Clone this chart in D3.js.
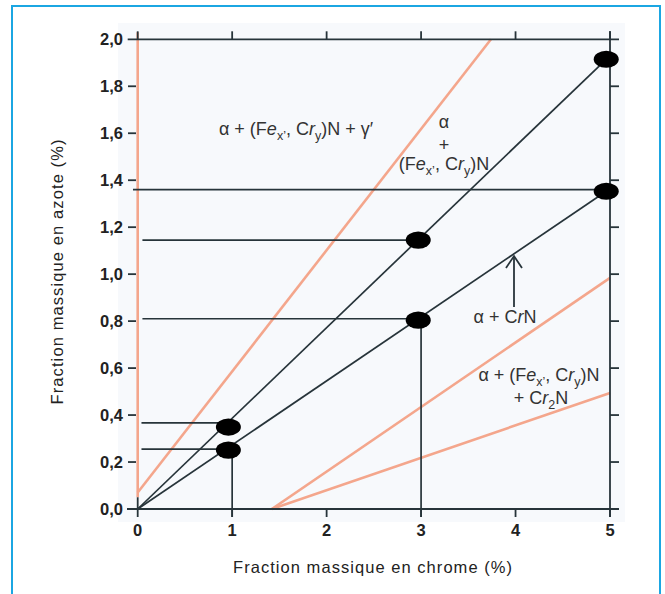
<!DOCTYPE html>
<html><head><meta charset="utf-8">
<script src="https://cdn.jsdelivr.net/npm/d3@7"></script>
<style>
html,body{margin:0;padding:0;background:#fff;}
svg{display:block;font-family:"Liberation Sans",Arial,sans-serif;}
</style></head>
<body>
<script>
// ---- data ----
const xTicks = [0, 1, 2, 3, 4, 5];
const yTicks = [0, 0.2, 0.4, 0.6, 0.8, 1.0, 1.2, 1.4, 1.6, 1.8, 2.0];
const yTickLabels = ["0,0","0,2","0,4","0,6","0,8","1,0","1,2","1,4","1,6","1,8","2,0"];
// phase boundaries (orange): start/end points
const boundaryX0 = [0, 0, 1.42, 1.42];
const boundaryY0 = [0.05, 0.07, 0, 0];
const boundaryX1 = [0, 3.74, 5, 5];
const boundaryY1 = [2.03, 2.0, 0.984, 0.494];
// composition lines (black) from origin
const compX1 = [4.96, 4.96];
const compY1 = [1.915, 1.353];
// measured points
const pointX = [0.96, 0.96, 2.97, 2.97, 4.96, 4.96];
const pointY = [0.349, 0.251, 1.145, 0.804, 1.915, 1.353];
// horizontal guides
const guideY = [0.367, 0.255, 1.145, 0.81, 1.36];
const guideX0 = [0.04, 0.04, 0.05, 0.05, -0.05];
const guideX1 = [0.96, 0.96, 2.97, 2.97, 5];
// vertical guides
const vGuideX = [1, 3];
const vGuideY = [0.251, 0.804];

const W = 665, H = 594;
const svg = d3.select("body").append("svg").attr("width", W).attr("height", H);

// frame
svg.append("path").attr("d", `M12,${H} L12,6 L660,6 L660,${H}`)
  .attr("fill","none").attr("stroke","#1ba6e2").attr("stroke-width",2);

const x = d3.scaleLinear().domain([0,5]).range([137.7, 610]);
const y = d3.scaleLinear().domain([0,2]).range([509, 39.3]);

// plot background
svg.append("rect").attr("x",118).attr("y",23).attr("width",507).attr("height",499).attr("fill","#f7f9fc");

const ink = "#27343a", orange = "#f4a68c";
const g = svg.append("g");

// orange boundaries
boundaryX0.forEach((d,i)=>{
  g.append("line").attr("x1",x(d)).attr("y1",y(boundaryY0[i]))
    .attr("x2",x(boundaryX1[i])).attr("y2",y(boundaryY1[i]))
    .attr("stroke",orange).attr("stroke-width",2.6);
});

// axes: top, bottom, right lines
const axisW = 1.8;
g.append("line").attr("x1",127.7).attr("x2",x(5)+9).attr("y1",y(2)).attr("y2",y(2)).attr("stroke",ink).attr("stroke-width",axisW);
g.append("line").attr("x1",127).attr("x2",x(5)+9).attr("y1",y(0)).attr("y2",y(0)).attr("stroke",ink).attr("stroke-width",axisW);
g.append("line").attr("x1",x(5)).attr("x2",x(5)).attr("y1",y(2)-8).attr("y2",y(0)+8).attr("stroke",ink).attr("stroke-width",axisW);
// top ticks (up)
xTicks.forEach(t=>{
  g.append("line").attr("x1",x(t)).attr("x2",x(t)).attr("y1",y(2)).attr("y2",y(2)-8).attr("stroke",ink).attr("stroke-width",axisW);
});
// bottom ticks (down)
xTicks.slice(1).forEach(t=>{
  g.append("line").attr("x1",x(t)).attr("x2",x(t)).attr("y1",y(0)).attr("y2",y(0)+8).attr("stroke",ink).attr("stroke-width",axisW);
});
g.append("line").attr("x1",x(0)).attr("x2",x(0)).attr("y1",y(0.05)).attr("y2",y(0)+8).attr("stroke",ink).attr("stroke-width",axisW);
// left and right y ticks
yTicks.slice(1,-1).forEach(t=>{
  g.append("line").attr("x1",128).attr("x2",136).attr("y1",y(t)).attr("y2",y(t)).attr("stroke",ink).attr("stroke-width",axisW);
  g.append("line").attr("x1",x(5)).attr("x2",x(5)+9).attr("y1",y(t)).attr("y2",y(t)).attr("stroke",ink).attr("stroke-width",axisW);
});

// composition lines
compX1.forEach((d,i)=>{
  g.append("line").attr("x1",x(0)).attr("y1",y(0)).attr("x2",x(d)).attr("y2",y(compY1[i]))
    .attr("stroke",ink).attr("stroke-width",1.7);
});
// guides
guideY.forEach((d,i)=>{
  g.append("line").attr("x1",x(guideX0[i])).attr("x2",x(guideX1[i])).attr("y1",y(d)).attr("y2",y(d))
    .attr("stroke",ink).attr("stroke-width",1.7);
});
vGuideX.forEach((d,i)=>{
  g.append("line").attr("x1",x(d)).attr("x2",x(d)).attr("y1",y(vGuideY[i])).attr("y2",y(0)+8)
    .attr("stroke",ink).attr("stroke-width",1.7);
});
// points
pointX.forEach((d,i)=>{
  g.append("ellipse").attr("cx",x(d)).attr("cy",y(pointY[i])).attr("rx",12.5).attr("ry",8.6).attr("fill","#000");
});

// tick labels
svg.append("g").selectAll("text").data(yTicks).join("text")
  .attr("x",123).attr("y",d=>y(d)).attr("dy","0.35em").attr("text-anchor","end")
  .attr("font-weight","bold").attr("font-size",16.5).attr("fill","#222")
  .text((d,i)=>yTickLabels[i]);
svg.append("g").selectAll("text").data(xTicks).join("text")
  .attr("x",d=>x(d)).attr("y",536).attr("text-anchor","middle")
  .attr("font-weight","bold").attr("font-size",16.5).attr("fill","#222")
  .text(d=>d);

// axis titles
svg.append("text").attr("x",372.5).attr("y",573).attr("text-anchor","middle")
  .attr("font-size",16.5).attr("fill","#222").attr("textLength",279).attr("lengthAdjust","spacing")
  .text("Fraction massique en chrome (%)");
svg.append("text").attr("transform","translate(63,272) rotate(-90)").attr("text-anchor","middle")
  .attr("font-size",16.5).attr("fill","#222").attr("textLength",265).attr("lengthAdjust","spacing")
  .text("Fraction massique en azote (%)");

// rich labels
function rich(xc, yb, segs){
  const t = svg.append("text").attr("x",xc).attr("y",yb).attr("text-anchor","middle")
    .attr("font-size",18).attr("fill","#333");
  let shift = 0;
  segs.forEach(s=>{
    const ts = t.append("tspan").text(s.t);
    const target = s.sub ? 4.5 : 0;
    if (target !== shift){ ts.attr("dy", target - shift); shift = target; }
    if (s.sub) ts.attr("font-size",12.5);
    if (s.i) ts.attr("font-style","italic");
  });
  return t;
}
const FeCr = [{t:"(F"},{t:"e",i:true},{t:"x’",sub:true},{t:", C"},{t:"r",i:true},{t:"y",sub:true},{t:")N"}];
rich(296, 135, [{t:"α + "}].concat(FeCr, [{t:" + γ′"}]));
rich(444, 128, [{t:"α"}]);
rich(444, 151, [{t:"+"}]);
rich(444, 170, FeCr);
rich(505, 323, [{t:"α + C"},{t:"r",i:true},{t:"N"}]);
rich(539, 381, [{t:"α + "}].concat(FeCr));
rich(541, 404, [{t:"+ C"},{t:"r",i:true},{t:"2",sub:true},{t:"N"}]);

// arrow
svg.append("line").attr("x1",514).attr("x2",514).attr("y1",307).attr("y2",256).attr("stroke",ink).attr("stroke-width",1.8);
svg.append("path").attr("d","M506,268 L514,256 L522,268").attr("fill","none").attr("stroke",ink).attr("stroke-width",1.8);
</script>
</body></html>
